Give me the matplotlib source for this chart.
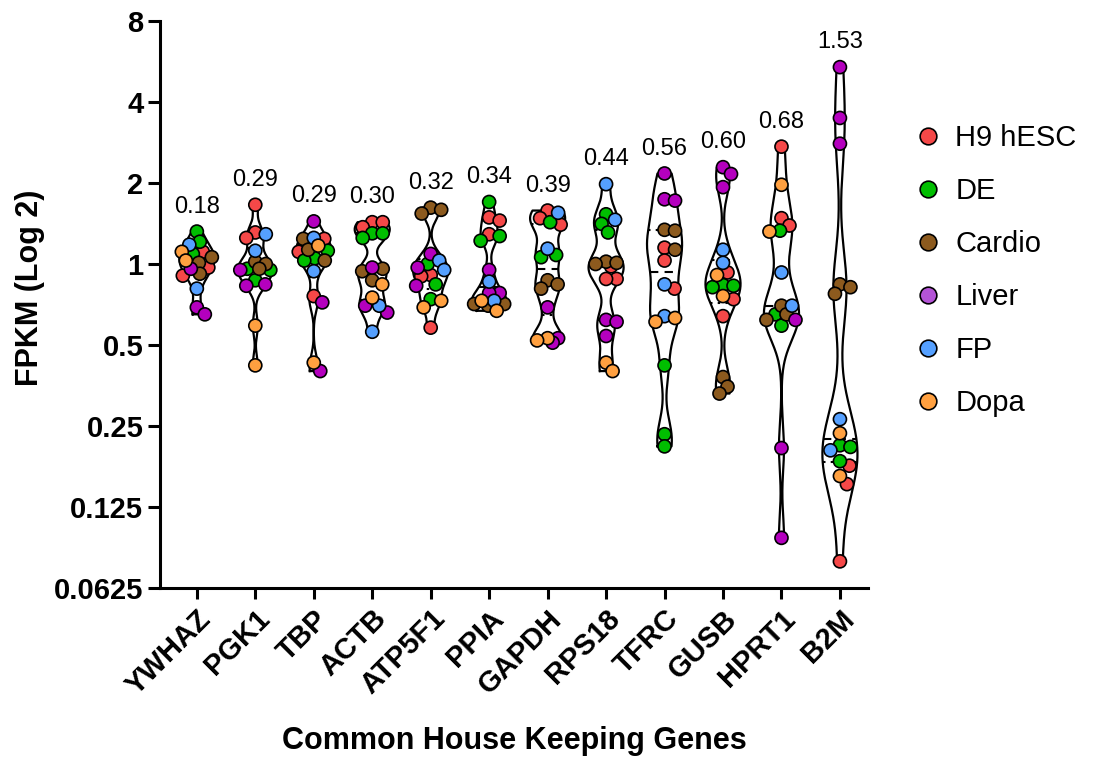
import numpy as np
import matplotlib
matplotlib.use('Agg')
import matplotlib.pyplot as plt
from matplotlib.lines import Line2D

plt.rcParams['font.family'] = ['Liberation Sans', 'DejaVu Sans']

genes = ['YWHAZ', 'PGK1', 'TBP', 'ACTB', 'ATP5F1', 'PPIA',
         'GAPDH', 'RPS18', 'TFRC', 'GUSB', 'HPRT1', 'B2M']
spread_labels = ['0.18', '0.29', '0.29', '0.30', '0.32', '0.34',
                 '0.39', '0.44', '0.56', '0.60', '0.68', '1.53']
groups = ['H9 hESC', 'DE', 'Cardio', 'Liver', 'FP', 'Dopa']

# FPKM per cell type
ywhaz = {'H9 hESC': [1.11, 0.97, 0.905], 'DE': [1.32, 1.21, 1.09], 'Cardio': [1.06, 1.01, 0.92],
         'Liver': [0.96, 0.69, 0.65], 'FP': [1.18, 0.81], 'Dopa': [1.11, 1.03]}
pgk1 = {'H9 hESC': [1.66, 1.31, 1.25], 'DE': [0.96, 0.95, 0.87], 'Cardio': [1.02, 1.00, 0.96],
        'Liver': [0.95, 0.84, 0.83], 'FP': [1.29, 1.12], 'Dopa': [0.59, 0.42]}
tbp = {'H9 hESC': [1.24, 1.11, 0.76], 'DE': [1.12, 1.05, 1.03], 'Cardio': [1.24, 1.13, 1.03],
       'Liver': [1.44, 0.72, 0.40], 'FP': [1.25, 0.94], 'Dopa': [1.17, 0.43]}
actb = {'H9 hESC': [1.43, 1.43, 1.37], 'DE': [1.30, 1.30, 1.25], 'Cardio': [0.96, 0.94, 0.87],
        'Liver': [0.97, 0.70, 0.66], 'FP': [0.70, 0.56], 'Dopa': [0.84, 0.75]}
atp5f1 = {'H9 hESC': [0.91, 0.90, 0.58], 'DE': [1.00, 0.84, 0.74], 'Cardio': [1.62, 1.59, 1.54],
          'Liver': [1.09, 0.97, 0.83], 'FP': [1.03, 0.95], 'Dopa': [0.73, 0.69]}
ppia = {'H9 hESC': [1.49, 1.45, 1.29], 'DE': [1.70, 1.27, 1.22], 'Cardio': [0.71, 0.71, 0.70],
        'Liver': [0.95, 0.78, 0.78], 'FP': [0.86, 0.73], 'Dopa': [0.73, 0.67]}
gapdh = {'H9 hESC': [1.58, 1.48, 1.40], 'DE': [1.43, 1.08, 1.06], 'Cardio': [0.87, 0.84, 0.81],
         'Liver': [0.69, 0.53, 0.51], 'FP': [1.55, 1.14], 'Dopa': [0.53, 0.52]}
rps18 = {'H9 hESC': [0.98, 0.88, 0.88], 'DE': [1.53, 1.41, 1.31], 'Cardio': [1.02, 1.01, 1.00],
         'Liver': [0.62, 0.61, 0.54], 'FP': [1.98, 1.46], 'Dopa': [0.43, 0.40]}
tfrc = {'H9 hESC': [1.15, 1.03, 0.81], 'DE': [0.42, 0.233, 0.21], 'Cardio': [1.34, 1.33, 1.13],
        'Liver': [2.17, 1.74, 1.72], 'FP': [0.84, 0.64], 'Dopa': [0.63, 0.61]}
gusb = {'H9 hESC': [0.93, 0.74, 0.64], 'DE': [0.835, 0.83, 0.82], 'Cardio': [0.38, 0.35, 0.33],
        'Liver': [2.29, 2.16, 1.93], 'FP': [1.13, 1.01], 'Dopa': [0.91, 0.76]}
hprt1 = {'H9 hESC': [2.73, 1.48, 1.39], 'DE': [1.33, 0.65, 0.59], 'Cardio': [0.70, 0.65, 0.62],
         'Liver': [0.62, 0.207, 0.096], 'FP': [0.93, 0.70], 'Dopa': [1.97, 1.32]}
b2m = {'H9 hESC': [0.178, 0.152, 0.0785], 'DE': [0.212, 0.209, 0.185], 'Cardio': [0.84, 0.82, 0.775],
       'Liver': [5.39, 3.49, 2.80], 'FP': [0.265, 0.203], 'Dopa': [0.235, 0.163]}

all_data = [ywhaz, pgk1, tbp, actb, atp5f1, ppia, gapdh, rps18, tfrc, gusb, hprt1, b2m]

colors = {'H9 hESC': '#F54848', 'DE': '#00BE00', 'Cardio': '#8C5A1E',
          'Liver': '#B400BE', 'FP': '#55A0FF', 'Dopa': '#FFA040'}
legend_colors = dict(colors, Liver='#B454D6')

W, H = 1095, 760
fig = plt.figure(figsize=(W / 100, H / 100), dpi=100)
ax = fig.add_axes([160 / W, (H - 588) / H, (868 - 160) / W, (588 - 21) / H])

# pixel scales used for the swarm layout
px_per_cat = 58.45
px_per_oct = 81.0


def swarm(ypx, dot=10.5, cap=15.0):
    xs = np.zeros(len(ypx))
    placed = []
    steps = np.arange(0.5, cap + 0.01, 0.5)
    cands = np.concatenate([[0.0], np.ravel(np.column_stack([steps, -steps]))])
    for i in np.argsort(-ypx):
        best, best_gap = 0.0, -1.0
        for c in cands:
            gap = min([np.hypot(c - xs[j], ypx[i] - ypx[j]) for j in placed], default=1e9)
            if gap >= dot:
                best = c
                break
            if gap > best_gap:
                best, best_gap = c, gap
        xs[i] = best
        placed.append(i)
    return xs


for k, d in enumerate(all_data):
    vals = np.concatenate([d[g] for g in groups])
    cols = np.concatenate([[colors[g]] * len(d[g]) for g in groups])
    lv = np.log2(vals)

    # violin, truncated at min / max
    bw = max(0.12, 0.45 * lv.std() * len(lv) ** -0.2)
    grid = np.linspace(lv.min(), lv.max(), 300)
    dens = np.exp(-0.5 * ((grid[:, None] - lv[None, :]) / bw) ** 2).sum(1)
    hw = 0.3 * dens / dens.max()
    yy = 2 ** grid
    ax.plot(np.r_[k - hw, (k + hw)[::-1], k - hw[0]], np.r_[yy, yy[::-1], yy[0]],
            color='black', lw=1.6, zorder=2)
    q1, med, q3 = np.percentile(lv, [25, 50, 75])
    for q, ls in [(med, (0, (4, 3))), (q1, (0, (1.2, 2.5))), (q3, (0, (1.2, 2.5)))]:
        w = np.interp(q, grid, hw)
        ax.plot([k - w, k + w], [2 ** q, 2 ** q], color='black', lw=1.5, ls=ls, zorder=2)

    xs = swarm(lv * px_per_oct) / px_per_cat
    ax.scatter(k + xs, vals, s=88, c=list(cols), edgecolors='black', linewidths=1.2, zorder=3)

    ax.annotate(spread_labels[k], (k, vals.max()), xytext=(0, 10), textcoords='offset points',
                ha='center', va='bottom', fontsize=17)

ax.set_yscale('log', base=2)
ax.set_ylim(0.0625, 8)
ax.set_xlim(-0.63, 11.48)
yt = [0.0625, 0.125, 0.25, 0.5, 1, 2, 4, 8]
ax.set_yticks(yt)
ax.set_yticklabels(['0.0625', '0.125', '0.25', '0.5', '1', '2', '4', '8'])
ax.yaxis.set_minor_locator(matplotlib.ticker.NullLocator())
ax.set_xticks(range(len(genes)))
ax.set_xticklabels(genes, rotation=45, ha='right', rotation_mode='anchor')

for s in ['top', 'right']:
    ax.spines[s].set_visible(False)
for s in ['left', 'bottom']:
    ax.spines[s].set_linewidth(2.2)
ax.tick_params(axis='y', length=9, width=2.2, labelsize=21, pad=3)
ax.tick_params(axis='x', length=8, width=2.2, labelsize=21, pad=4)
for lab in ax.get_xticklabels() + ax.get_yticklabels():
    lab.set_fontweight('bold')

ax.set_ylabel('FPKM (Log 2)', fontsize=22, fontweight='bold')
ax.yaxis.set_label_coords(-0.163, 0.53)
ax.set_xlabel('Common House Keeping Genes', fontsize=22, fontweight='bold', labelpad=19)

handles = [Line2D([], [], marker='o', ls='none', markersize=12, markerfacecolor=legend_colors[g],
                  markeredgecolor='black', markeredgewidth=1.2, label=g) for g in groups]
fig.legend(handles=handles, loc='upper left', bbox_to_anchor=(913 / W, 1 - 124 / H),
           frameon=False, fontsize=21, labelspacing=0.86, handlelength=1.0,
           handletextpad=0.45, borderpad=0, borderaxespad=0)

fig.savefig('out.png', dpi=100)
